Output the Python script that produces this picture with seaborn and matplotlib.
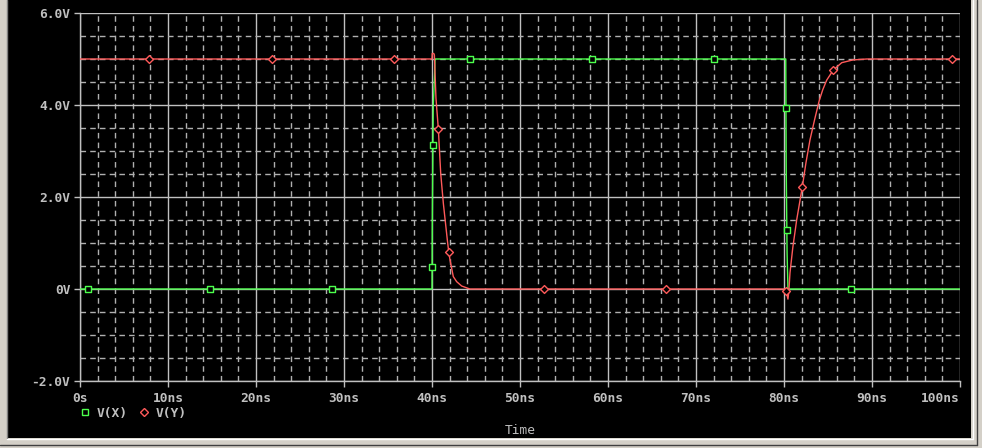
import matplotlib
matplotlib.use("Agg")
import matplotlib.pyplot as plt
from matplotlib.lines import Line2D
from matplotlib.patches import Rectangle
from matplotlib.ticker import MultipleLocator
import pandas as pd
import seaborn as sns

# traces (time in ns, volts)
vx_time = [0, 40.0, 40.03, 40.14, 40.3, 40.34, 80.2, 80.25, 80.35, 80.45, 100]
vx_volt = [0, 0, 1.28, 3.96, 4.7, 5.0, 5.0, 2.67, 0.78, 0.0, 0]

vy_time = [0, 40.0, 40.03, 40.2, 40.27, 40.45, 40.72, 40.99, 41.29, 41.74, 41.9,
           42.05, 42.42, 42.8, 43.37, 44.3, 80.1, 80.23, 80.45, 80.55, 80.68,
           81.0, 81.44, 82.08, 82.5, 82.95, 83.5, 84.01, 84.4, 84.85, 85.6,
           86.56, 87.84, 89.4, 100]
vy_volt = [5, 5, 5.12, 5.12, 5.09, 4.15, 3.48, 2.51, 1.86, 1.07, 0.81,
           0.63, 0.27, 0.16, 0.065, 0.0, 0, -0.04, -0.22, -0.05, 0.35,
           0.9, 1.5, 2.22, 2.75, 3.24, 3.7, 4.1, 4.33, 4.54, 4.76,
           4.92, 4.98, 5.0, 5]

# symbol positions on each trace
vx_mark_time = [0.91, 14.77, 28.64, 40.03, 40.12, 44.35, 58.2, 72.05, 80.26, 80.38, 87.65]
vx_mark_volt = [0, 0, 0, 0.47, 3.12, 5, 5, 5, 3.93, 1.28, 0]
vy_mark_time = [7.88, 21.8, 35.7, 40.72, 41.9, 52.76, 66.6, 80.23, 82.08, 85.6, 99.1]
vy_mark_volt = [5, 5, 5, 3.48, 0.81, 0, 0, -0.04, 2.22, 4.76, 5]

x_ticks = [0, 10, 20, 30, 40, 50, 60, 70, 80, 90, 100]
x_labels = ["0s", "10ns", "20ns", "30ns", "40ns", "50ns", "60ns", "70ns", "80ns", "90ns", "100ns"]
y_ticks = [-2, 0, 2, 4, 6]
y_labels = ["-2.0V", "0V", "2.0V", "4.0V", "6.0V"]

GREEN = "#4cff4c"
RED = "#ff5a5a"
GRAY = "#c0c0c0"
FONT = dict(family="DejaVu Sans Mono", size=9.3, weight="bold", color=GRAY)

sns.set_theme(style="dark", rc={
    "axes.facecolor": "black",
    "figure.facecolor": "#d4d0c8",
    "axes.edgecolor": GRAY,
    "axes.linewidth": 1.0,
})
plt.rcParams["font.family"] = ["DejaVu Sans Mono", "DejaVu Sans"]

fig = plt.figure(figsize=(9.82, 4.48), dpi=100)

# black window area with the grey bevel round it
fig.patches.append(Rectangle((7 / 982, 10 / 448), 964 / 982, 438 / 448,
                             transform=fig.transFigure, facecolor="black",
                             edgecolor="none", zorder=-5))
for xs, ys, c in [
    ([6.5 / 982, 6.5 / 982], [10 / 448, 1], "#808080"),
    ([972.5 / 982, 972.5 / 982], [9 / 448, 1], "white"),
    ([976.5 / 982, 976.5 / 982], [3 / 448, 1], "#404040"),
    ([7 / 982, 973 / 982], [9.5 / 448, 9.5 / 448], "white"),
    ([0, 977 / 982], [3.5 / 448, 3.5 / 448], "#404040"),
]:
    fig.lines.append(Line2D(xs, ys, transform=fig.transFigure, color=c, lw=1,
                            zorder=-4))

ax = fig.add_axes([80 / 982, 67 / 448, 880 / 982, 368 / 448])
ax.set_facecolor("black")

vx = pd.DataFrame({"t": vx_time, "v": vx_volt})
vy = pd.DataFrame({"t": vy_time, "v": vy_volt})
sns.lineplot(data=vx, x="t", y="v", estimator=None, sort=False, color=GREEN,
             lw=1.0, ax=ax, zorder=3)
sns.lineplot(data=vy, x="t", y="v", estimator=None, sort=False, color=RED,
             lw=1.0, ax=ax, zorder=4)
sns.scatterplot(x=vx_mark_time, y=vx_mark_volt, marker="s", s=22, color="black",
                edgecolor=GREEN, linewidth=1.0, ax=ax, zorder=5)
sns.scatterplot(x=vy_mark_time, y=vy_mark_volt, marker="D", s=16, color="black",
                edgecolor=RED, linewidth=1.0, ax=ax, zorder=5)

ax.set_xlim(0, 100)
ax.set_ylim(-2, 6)
ax.set_xticks(x_ticks)
ax.set_xticklabels(x_labels, fontdict=FONT)
ax.get_xticklabels()[-1].set_horizontalalignment("right")
ax.set_yticks(y_ticks)
ax.set_yticklabels(y_labels, fontdict=FONT)
ax.xaxis.set_minor_locator(MultipleLocator(2))
ax.yaxis.set_minor_locator(MultipleLocator(0.5))
ax.tick_params(which="major", length=4, width=1, color=GRAY, direction="out",
               bottom=True, left=True, pad=3)
ax.tick_params(axis="x", pad=4)
ax.tick_params(which="minor", length=0)
ax.grid(which="major", color=GRAY, lw=1, ls="-")
ax.grid(which="minor", color="#b0b0b0", lw=1, ls=(0, (4, 3)))
ax.set_axisbelow(True)
for side in ["top", "right"]:
    ax.spines[side].set_visible(False)
ax.set_xlabel("")
ax.set_ylabel("")

fig.text(520 / 982, 18 / 448, "Time", ha="center", va="center",
         family="DejaVu Sans Mono", size=9.3, color=GRAY)

handles = [
    Line2D([], [], ls="none", marker="s", ms=5, mfc="black", mec=GREEN, mew=1),
    Line2D([], [], ls="none", marker="D", ms=4, mfc="black", mec=RED, mew=1),
]
leg = fig.legend(handles, ["V(X)", "V(Y)"], loc="center left",
                 bbox_to_anchor=(68 / 982, 35 / 448), ncol=2, frameon=False,
                 handlelength=0.8, handletextpad=0.5, columnspacing=0.9,
                 prop=dict(family="DejaVu Sans Mono", size=9.3, weight="bold"))
for t in leg.get_texts():
    t.set_color(GRAY)

fig.savefig("out.png", dpi=100, facecolor=fig.get_facecolor())
